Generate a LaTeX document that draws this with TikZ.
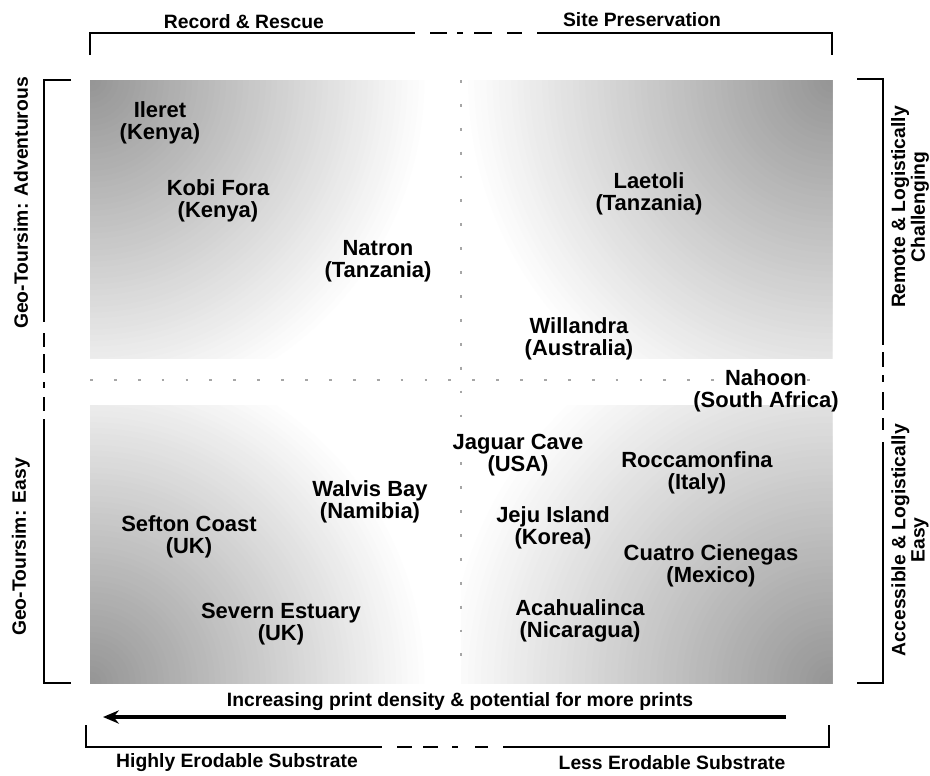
\documentclass[tikz,border=0pt]{standalone}
\usepackage{fontspec}
\setmainfont{Liberation Sans}
\usetikzlibrary{arrows.meta}
\tikzset{
  place/.style={font=\fontsize{12.5}{12.5}\selectfont\bfseries, align=center, inner sep=0pt},
  axislabel/.style={font=\fontsize{11}{11}\selectfont\bfseries, inner sep=0pt},
  sidelabel/.style={font=\fontsize{11}{9.8}\selectfont\bfseries, align=center, rotate=90, inner sep=0pt},
  bracket/.style={line width=1pt},
  griddots/.style={black!35, line width=1.6pt, dash pattern=on 1.6pt off 12pt},
}
\begin{document}
\begin{tikzpicture}[x=0.02cm, y=-0.02cm]
  \useasboundingbox (0,0) rectangle (930,775);
  \foreach \cx/\cy/\ax/\ay/\bx/\by/\fade in {90/80/90/80/461/358/6.8, 832/80/461/80/832/358/7.4,
      90/683/90/405/461/683/6.8, 832/683/461/405/832/683/7.8}{
    \begin{scope}
      \clip (\ax,\ay) rectangle (\bx,\by);
      \foreach \i in {0,...,59}{
        \pgfmathsetmacro\rr{\fade*(1-\i/60)}
        \pgfmathsetmacro\cc{42*\i/60}
        \fill[black!\cc] (\cx,\cy) circle (\rr cm);
      }
    \end{scope}
  }
  \draw[griddots] (461,80) -- (461,676);
  \draw[griddots] (90,380) -- (830,380);

  \draw[bracket] (90,55) -- (90,33) -- (415,33);
  \draw[bracket] (537,33) -- (832,33) -- (832,55);
  \foreach \a/\b in {430/447,457/463,474/492,507/522}
    \draw[bracket] (\a,33) -- (\b,33);
  \draw[bracket] (86,725) -- (86,747) -- (382,747);
  \draw[bracket] (503,747) -- (829,747) -- (829,725);
  \foreach \a/\b in {397/412,423/438,452/458,475/488}
    \draw[bracket] (\a,747) -- (\b,747);
  \draw[bracket] (71,80) -- (44,80) -- (44,322);
  \draw[bracket] (44,419) -- (44,683) -- (71,683);
  \foreach \a/\b in {333/347,354/373,382/388,397/411}
    \draw[bracket] (44,\a) -- (44,\b);
  \draw[bracket] (857,79) -- (883,79) -- (883,345);
  \draw[bracket] (883,442) -- (883,683) -- (857,683);
  \foreach \a/\b in {352/367,375/382,392/410,418/430}
    \draw[bracket] (883,\a) -- (883,\b);

  \node[axislabel] (rescue) at (244,22) {Record \& Rescue};
  \node[axislabel] (preservation) at (642,20) {Site Preservation};
  \node[axislabel] (density) at (460,702) {Increasing print density \& potential for more prints};
  \node[axislabel] (higherode) at (237,763) {Highly Erodable Substrate};
  \node[axislabel] (lesserode) at (672,763) {Less Erodable Substrate};
  \node[sidelabel] (adventurous) at (21,203) {Geo-Toursim: Adventurous};
  \node[sidelabel] (easy) at (21,547) {Geo-Toursim: Easy};
  \node[sidelabel] (remote) at (910,207) {Remote \& Logistically\\Challenging};
  \node[sidelabel] (accessible) at (910,540) {Accessible \& Logistically\\Easy};

  \coordinate (arrowtail) at (786,717);
  \coordinate (arrowtip) at (103,717);
  \draw[line width=1.8pt, -{Stealth[length=9pt, width=7.5pt]}] (arrowtail) to (arrowtip);

  \path[every node/.style=place]
    (160,123) node (ileret){Ileret\\(Kenya)}
    (218,201) node (kobifora){Kobi Fora\\(Kenya)}
    (378,261) node (natron){Natron\\(Tanzania)}
    (649,194) node (laetoli){Laetoli\\(Tanzania)}
    (579,339) node (willandra){Willandra\\(Australia)}
    (766,391) node (nahoon){Nahoon\\(South Africa)}
    (518,455) node (jaguar){Jaguar Cave\\(USA)}
    (697,473) node (roccamonfina){Roccamonfina\\(Italy)}
    (553,528) node (jeju){Jeju Island\\(Korea)}
    (711,566) node (cuatro){Cuatro Cienegas\\(Mexico)}
    (580,621) node (acahualinca){Acahualinca\\(Nicaragua)}
    (370,502) node (walvis){Walvis Bay\\(Namibia)}
    (189,537) node (sefton){Sefton Coast\\(UK)}
    (281,624) node (severn){Severn Estuary\\(UK)};
\end{tikzpicture}
\end{document}
